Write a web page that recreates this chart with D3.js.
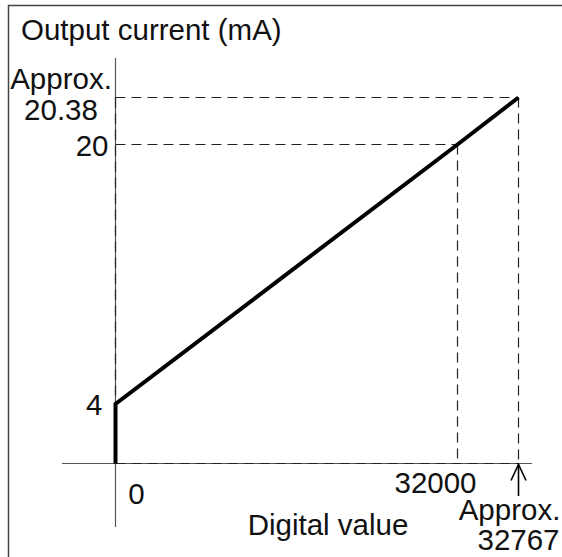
<!DOCTYPE html>
<html>
<head>
<meta charset="utf-8">
<script src="https://cdn.jsdelivr.net/npm/d3@7"></script>
<style>
  html, body { margin: 0; padding: 0; background: #fff; }
  svg { display: block; }
  text { font-family: "Liberation Sans", Arial, Helvetica, sans-serif; fill: #111; }
</style>
</head>
<body>
<script>
// Output characteristic: digital value -> output current
const digitalValues = [0, 0, 32000, 32767];
const currentValues = [0, 4, 20, 20.38];

// Reference (dashed) guide points
const guideDigital = [32000, 32767];
const guideCurrent = [20, 20.38];

// Tick labels
const yTickValues = [4, 20, 20.38];
const yTickLabels = [["4"], ["20"], ["Approx.", "20.38"]];
const xTickValues = [0, 32000, 32767];
const xTickLabels = [["0"], ["32000"], ["Approx.", "32767"]];

const yTitle = "Output current (mA)";
const xTitle = "Digital value";

const W = 562, H = 557;
const FS = 29.5;

const svg = d3.select("body").append("svg")
  .attr("width", W).attr("height", H);

// Frame
svg.append("path")
  .attr("d", `M8.5,${H + 2} V5.5 H${W + 2}`)
  .attr("fill", "none").attr("stroke", "#444").attr("stroke-width", 1.5);

// Schematic (not-to-scale) piecewise scales
const x = d3.scaleLinear().domain([0, 32000, 32767]).range([115.5, 457.5, 518.5]);
const y = d3.scaleLinear().domain([0, 4, 20, 20.38]).range([463.5, 404, 144.5, 97.5]);

// Axes
svg.append("line")
  .attr("x1", x(0)).attr("x2", x(0)).attr("y1", 58).attr("y2", 527)
  .attr("stroke", "#555").attr("stroke-width", 1.2);
svg.append("line")
  .attr("x1", 62).attr("x2", 532).attr("y1", y(0)).attr("y2", y(0))
  .attr("stroke", "#555").attr("stroke-width", 1.2);

// Dashed guides
const dash = "10,6";
const guides = svg.append("g")
  .attr("fill", "none").attr("stroke", "#222").attr("stroke-width", 1.2)
  .attr("stroke-dasharray", dash);
guideDigital.forEach((dv, i) => {
  const cv = guideCurrent[i];
  guides.append("line")
    .attr("x1", x(0)).attr("x2", x(dv)).attr("y1", y(cv)).attr("y2", y(cv));
  guides.append("line")
    .attr("x1", x(dv)).attr("x2", x(dv)).attr("y1", y(cv)).attr("y2", y(0));
});
guides.append("line")
  .attr("x1", x(0)).attr("x2", x(d3.max(guideDigital))).attr("y1", y(0)).attr("y2", y(0));
guides.append("line")
  .attr("x1", x(0)).attr("x2", x(0)).attr("y1", y(d3.max(guideCurrent))).attr("y2", y(0));

// Characteristic line
const pts = digitalValues.map((d, i) => [d, currentValues[i]]);
svg.append("path")
  .datum(pts)
  .attr("d", d3.line().x(d => x(d[0])).y(d => y(d[1])))
  .attr("fill", "none").attr("stroke", "#000").attr("stroke-width", 4)
  .attr("stroke-linejoin", "miter").attr("stroke-linecap", "butt");

// Arrow pointing at the maximum digital value
const ax = x(32767);
svg.append("line")
  .attr("x1", ax).attr("x2", ax).attr("y1", 496).attr("y2", y(0) + 1)
  .attr("stroke", "#000").attr("stroke-width", 1.6);
svg.append("path")
  .attr("d", `M${ax - 7.5},${y(0) + 17} L${ax},${y(0) + 1} L${ax + 7.5},${y(0) + 17}`)
  .attr("fill", "none").attr("stroke", "#000").attr("stroke-width", 1.6);

// Titles
svg.append("text").attr("x", 21).attr("y", 40)
  .attr("font-size", FS).text(yTitle);
svg.append("text").attr("x", 328).attr("y", 535)
  .attr("text-anchor", "middle").attr("font-size", FS).text(xTitle);

// Y tick labels
const yLab = svg.append("g").attr("font-size", FS);
yTickValues.forEach((v, i) => {
  const lines = yTickLabels[i];
  if (lines.length === 1) {
    yLab.append("text")
      .attr("x", x(0) - (v === 4 ? 13 : 7))
      .attr("y", y(v) + 11)
      .attr("text-anchor", "end")
      .text(lines[0]);
  } else {
    lines.forEach((s, j) => {
      yLab.append("text")
        .attr("x", 61)
        .attr("y", y(v) - 9 + j * 31)
        .attr("text-anchor", "middle")
        .text(s);
    });
  }
});

// X tick labels
const xLab = svg.append("g").attr("font-size", FS);
xTickValues.forEach((v, i) => {
  const lines = xTickLabels[i];
  if (v === 0) {
    xLab.append("text").attr("x", x(v) + 21).attr("y", y(0) + 40)
      .attr("text-anchor", "middle").text(lines[0]);
  } else if (lines.length === 1) {
    xLab.append("text").attr("x", x(v) - 22).attr("y", y(0) + 29)
      .attr("text-anchor", "middle").text(lines[0]);
  } else {
    lines.forEach((s, j) => {
      xLab.append("text")
        .attr("x", x(v) + (j === 0 ? -9 : 0))
        .attr("y", y(0) + 56 + j * 30.5)
        .attr("text-anchor", "middle")
        .text(s);
    });
  }
});
</script>
</body>
</html>
